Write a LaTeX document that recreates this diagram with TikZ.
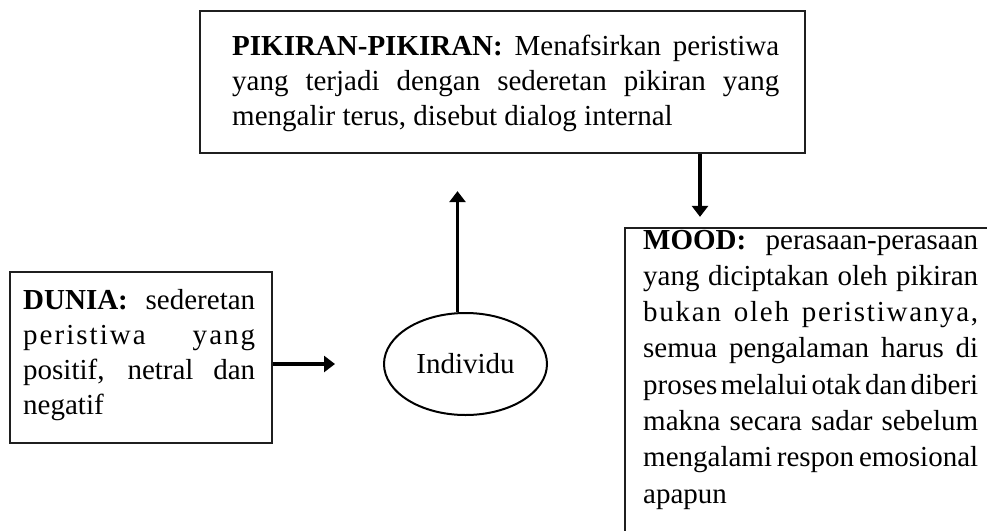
\documentclass[tikz,border=0pt]{standalone}
\usepackage{fontspec}
\setmainfont{Liberation Serif}[WordSpace={1,1,1.7}]
\usetikzlibrary{arrows.meta,shapes.geometric}
\hbadness=10000
\hfuzz=20pt
\hyphenpenalty=10000
\exhyphenpenalty=10000
\begin{document}
\begin{tikzpicture}[x=1pt,y=-1pt,
  box/.style={draw=black!88, line width=2.3pt, rectangle, inner sep=0pt},
  txt/.style={anchor=base west, inner sep=0pt, align=justify, font=\fontsize{29}{35}\selectfont},
  arr/.style={line width=3.2pt, -{Triangle[length=11pt,width=16pt]}},
]
\clip (0,0) rectangle (987,530);
% boxes
\node[box, minimum width=605pt, minimum height=142pt] (top) at (502.5,82) {};
\node[box, minimum width=262pt, minimum height=171pt] (dunia) at (141,357.5) {};
\node[box, minimum width=380pt, minimum height=320pt] (mood) at (815,388) {};
\node[ellipse, draw=black, line width=2pt, minimum width=163pt, minimum height=102pt,
      inner sep=0pt, font=\fontsize{29}{35}\selectfont] (indiv) at (465.5,364) {Individu};
% texts
\node[txt, text width=547pt] (toptext) at (232,55)
  {\textbf{PIKIRAN-PIKIRAN:} Menafsirkan peristiwa\linebreak yang terjadi dengan sederetan pikiran yang\linebreak mengalir terus, disebut dialog internal};
\node[txt, text width=232pt] (duniatext) at (23,309)
  {\textbf{DUNIA:} sederetan\linebreak {\addfontfeature{LetterSpace=7}peristiwa yang}\linebreak positif, netral dan\linebreak negatif};
\node[txt, text width=335pt, font=\fontsize{29}{36.3}\selectfont] (moodtext) at (643,249)
  {\textbf{MOOD:} perasaan-perasaan\linebreak yang diciptakan oleh pikiran\linebreak {\addfontfeature{LetterSpace=6}bukan oleh peristiwanya,}\linebreak semua pengalaman harus di\linebreak proses melalui otak dan diberi\linebreak makna secara sadar sebelum\linebreak mengalami respon emosional\linebreak apapun};
% connectors
\draw[arr, shorten >=48pt] (dunia.east |- indiv.center) -- (indiv.west);
\coordinate (upstart) at ([xshift=-8pt]indiv.north);
\draw[arr, shorten >=37pt] (upstart) -- (upstart |- top.south);
\coordinate (dx) at (700,0);
\draw[arr, shorten >=10pt] (top.south -| dx) -- (mood.north -| dx);
\end{tikzpicture}
\end{document}
